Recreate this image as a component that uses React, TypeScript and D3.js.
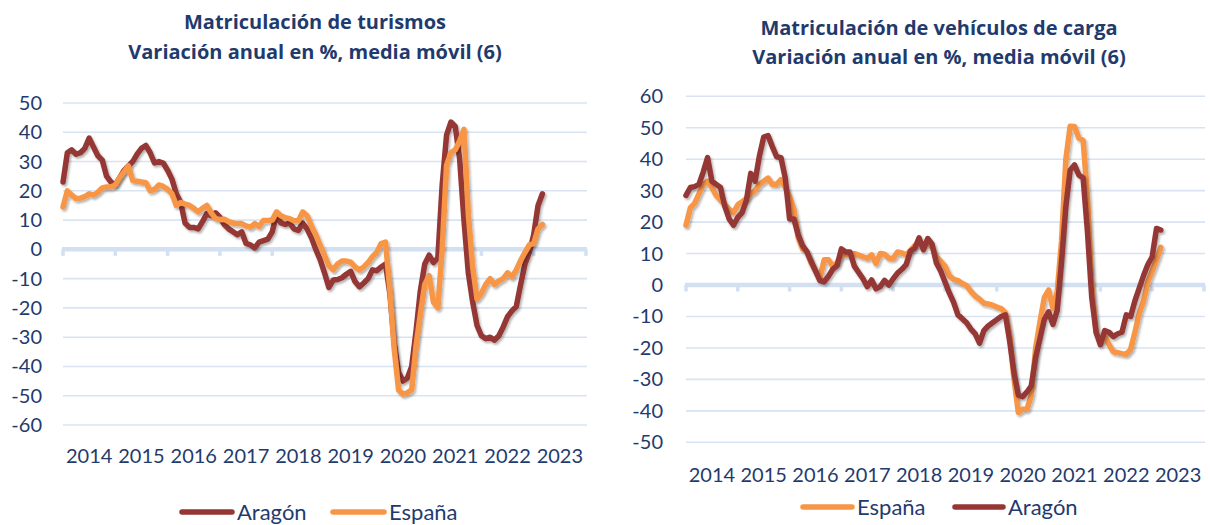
import React from 'react';
import * as d3 from 'd3';

const years = ['2014', '2015', '2016', '2017', '2018', '2019', '2020', '2021', '2022', '2023'];

const turismosTicks = [50, 40, 30, 20, 10, 0, -10, -20, -30, -40, -50, -60];
const cargaTicks = [60, 50, 40, 30, 20, 10, 0, -10, -20, -30, -40, -50];

// Monthly values from Jan 2014
const turismosAragon = [
  23, 33, 34, 32.5, 33, 34.5, 38, 35, 32, 30.5, 25, 23,
  22, 24.5, 27, 28.5, 30, 32.5, 34.5, 35.5, 33, 29.5, 30, 29.5,
  27, 24, 19, 16, 9, 7.5, 7.5, 7, 9.5, 12.2, 11.5, 12.5,
  11, 8.5, 7, 6, 5, 6, 2, 1.5, 0.5, 2.5, 3, 3.5,
  6, 12, 9, 8.5, 9, 7, 6.5, 9, 7, 4, 0, -3.5,
  -8, -13, -10.5, -10.3, -9.7, -8.5, -7.5, -11, -12.8, -11.5, -10, -7,
  -7.3, -6, -5, -15, -32, -42, -45, -44, -40, -28, -14, -5,
  -2, -4.5, -3, 22, 39, 43.5, 42, 31, 10, -8, -18, -26,
  -29.5, -30.5, -30, -31, -29.5, -26.5, -23, -21, -19.5, -12, -5, -1,
  5, 15, 19,
];
const turismosEspana = [
  14.5, 20, 18.5, 17.3, 17.5, 18, 19, 18.5, 19.5, 21, 21.3, 21.3,
  22, 24.5, 26.5, 28.5, 23.5, 23.3, 23, 22.8, 20, 20.5, 22, 21.5,
  20.5, 19, 15, 16, 15.5, 15, 14, 12.8, 14, 15, 12.5, 10.5,
  10.2, 10.3, 9.5, 9, 8.8, 8.8, 8, 7.6, 8.8, 7.8, 9.9, 9.9,
  10, 12.8, 11.5, 10.8, 10.5, 9.8, 9.8, 12.8, 11.5, 8, 5, 1.5,
  -2, -5.5, -7, -5, -4, -4, -4.4, -6, -7, -6, -4.5, -2.5,
  -1, 2, 2.5, -14, -34, -48, -49.5, -49, -48, -33, -22, -12,
  -9, -18, -20, 0, 28.7, 33, 34, 37, 41, 12, -6, -17,
  -15, -12, -10, -12, -10.8, -10, -8, -9.5, -7, -3.8, -1, 1.5,
  2, 7, 8.5,
];
const cargaEspana = [
  19, 24.5, 26, 29, 32, 33, 31, 28.5, 27, 25.5, 24, 23,
  25.5, 26.5, 27.5, 29, 30, 32, 33, 34, 32, 32, 33.5, 31,
  28, 24, 15, 11.5, 10.5, 7, 4.5, 2, 8, 8, 6, 7,
  9.6, 9.6, 9.6, 10, 9.5, 9, 8.5, 9.6, 6.8, 10, 9.8, 8.5,
  8.5, 10.5, 10.2, 9.6, 11, 12.5, 13.3, 12.7, 14.2, 12, 9, 7.5,
  6, 3, 1.8, 1.4, 0.5, -0.2, -2, -3.5, -4.5, -5.8, -6, -6.4,
  -7, -7.5, -8.8, -16, -30, -40.5, -39.5, -39.5, -35, -20, -11.7, -4,
  -1.6, -7.4, -2, 14, 40, 50.5, 50.4, 46.7, 46, 28, 0, -15,
  -18, -16, -19, -21.2, -21.5, -21.8, -22, -20.5, -15, -9, -5, 1,
  4.5, 8, 12,
];
const cargaAragon = [
  28.5, 31, 31.3, 32, 36, 40.5, 33, 32, 31, 25, 21, 19,
  21.5, 23, 27, 35.5, 33, 41, 47, 47.5, 44, 40.8, 40.5, 34,
  21, 21, 16, 12.5, 10.6, 7.5, 4.5, 1.5, 1, 2.8, 5, 6.2,
  11.5, 10.5, 10.5, 6, 4, 2, -0.5, 1.6, -1.2, -0.5, 1.5, 0,
  2, 3.8, 5, 6.5, 10.8, 11.7, 15, 11.2, 14.8, 13, 7, 4.5,
  1, -2.5, -5.5, -9.5, -10.7, -12, -14, -15.5, -18.5, -14.5, -13, -12,
  -11, -10, -9.5, -18, -28, -35, -35.5, -34, -32, -23, -17, -11,
  -8.5, -12.5, -8, 7.5, 25, 36.5, 38.2, 35, 34, 17, -4, -15,
  -19, -14.5, -15, -16.4, -15.5, -15, -9.5, -10, -5, -1, 3, 6.5,
  9, 18, 17.5,
];

const TEXT = '#1F3B6E';
const GRID = '#D9E4F2';
const AXIS = '#D2E0F1';
const ARAGON = '#953735';
const ESPANA = '#F79646';
const FONT = 'Lato, "Open Sans", sans-serif';
const TITLE_FONT = '"Open Sans", Lato, sans-serif';

type Series = { name: string; values: number[]; color: string };

function Panel(props: {
  title: string[];
  titleX: number;
  titleY: number[];
  x0: number;
  x1: number;
  yDomain: [number, number];
  yRange: [number, number];
  ticks: number[];
  labelX: number;
  yearY: number;
  series: Series[];
  legend: { name: string; color: string; lx0: number; lx1: number; tx: number }[];
  legendY: number;
}) {
  const { title, titleX, titleY, x0, x1, yDomain, yRange, ticks, labelX, yearY, series, legend, legendY } = props;
  const band = d3.scaleBand<string>().domain(years).range([x0, x1]).paddingInner(0).paddingOuter(0);
  const xm = d3.scaleLinear().domain([0, years.length * 12]).range([x0, x1]);
  const y = d3.scaleLinear().domain(yDomain).range(yRange);
  const line = d3
    .line<number>()
    .x((_, i) => xm(i))
    .y((d) => y(d))
    .curve(d3.curveLinear);
  const boundaries = years.map((yr) => band(yr)!).concat([x1]);
  return (
    <g>
      {title.map((t, i) => (
        <text
          key={i}
          x={titleX}
          y={titleY[i]}
          textAnchor="middle"
          fontFamily={TITLE_FONT}
          fontWeight="bold"
          fontSize={20}
          fill={TEXT}
        >
          {t}
        </text>
      ))}
      {ticks
        .filter((t) => t !== 0)
        .map((t) => (
          <line key={t} x1={x0} x2={x1 + 1} y1={y(t)} y2={y(t)} stroke={GRID} strokeWidth={1.6} />
        ))}
      {ticks.map((t) => (
        <text
          key={'l' + t}
          x={labelX}
          y={y(t)}
          dy="0.35em"
          textAnchor="end"
          fontFamily={FONT}
          fontSize={20}
          fill={TEXT}
        >
          {t}
        </text>
      ))}
      <line x1={x0 - 1} x2={x1 + 1} y1={y(0)} y2={y(0)} stroke={AXIS} strokeWidth={4.5} />
      {boundaries.map((bx, i) => (
        <line key={'t' + i} x1={bx} x2={bx} y1={y(0)} y2={y(0) + 6.5} stroke={AXIS} strokeWidth={3.5} />
      ))}
      {years.map((yr) => (
        <text
          key={yr}
          x={band(yr)! + band.bandwidth() / 2}
          y={yearY}
          textAnchor="middle"
          fontFamily={FONT}
          fontSize={20}
          fill={TEXT}
        >
          {yr}
        </text>
      ))}
      {series.map((s) => (
        <path
          key={s.name}
          d={line(s.values) || ''}
          fill="none"
          stroke={s.color}
          strokeWidth={5.5}
          strokeLinejoin="round"
          strokeLinecap="round"
          filter="url(#shadow)"
        />
      ))}
      {legend.map((l) => (
        <g key={l.name}>
          <line
            x1={l.lx0}
            x2={l.lx1}
            y1={legendY}
            y2={legendY}
            stroke={l.color}
            strokeWidth={5.5}
            strokeLinecap="round"
          />
          <text x={l.tx} y={legendY} dy="0.35em" fontFamily={FONT} fontSize={22} fill={TEXT}>
            {l.name}
          </text>
        </g>
      ))}
    </g>
  );
}

export default function App() {
  return (
    <svg
      width={1210}
      height={525}
      viewBox="0 0 1210 525"
      style={{ position: 'absolute', left: 0, top: 0, background: '#fff' }}
    >
      <defs>
        <filter id="shadow" x="-10%" y="-10%" width="120%" height="130%">
          <feDropShadow dx="1.5" dy="2" stdDeviation="1.3" floodColor="#000" floodOpacity="0.3" />
        </filter>
      </defs>
      <rect x={0} y={0} width={1210} height={525} fill="#fff" />
      <Panel
        title={['Matriculación de turismos', 'Variación anual en %, media móvil (6)']}
        titleX={315}
        titleY={[29, 59]}
        x0={63}
        x1={586}
        yDomain={[-60, 50]}
        yRange={[425, 103]}
        ticks={turismosTicks}
        labelX={42}
        yearY={463}
        series={[
          { name: 'Aragón', values: turismosAragon, color: ARAGON },
          { name: 'España', values: turismosEspana, color: ESPANA },
        ]}
        legend={[
          { name: 'Aragón', color: ARAGON, lx0: 182, lx1: 232, tx: 237 },
          { name: 'España', color: ESPANA, lx0: 333, lx1: 384, tx: 389 },
        ]}
        legendY={512}
      />
      <Panel
        title={['Matriculación de vehículos de carga', 'Variación anual en %, media móvil (6)']}
        titleX={939}
        titleY={[35, 64]}
        x0={686}
        x1={1204}
        yDomain={[-50, 60]}
        yRange={[442.3, 96.3]}
        ticks={cargaTicks}
        labelX={663}
        yearY={482}
        series={[
          { name: 'España', values: cargaEspana, color: ESPANA },
          { name: 'Aragón', values: cargaAragon, color: ARAGON },
        ]}
        legend={[
          { name: 'España', color: ESPANA, lx0: 803, lx1: 852, tx: 857 },
          { name: 'Aragón', color: ARAGON, lx0: 955, lx1: 1003, tx: 1008 },
        ]}
        legendY={507}
      />
    </svg>
  );
}
